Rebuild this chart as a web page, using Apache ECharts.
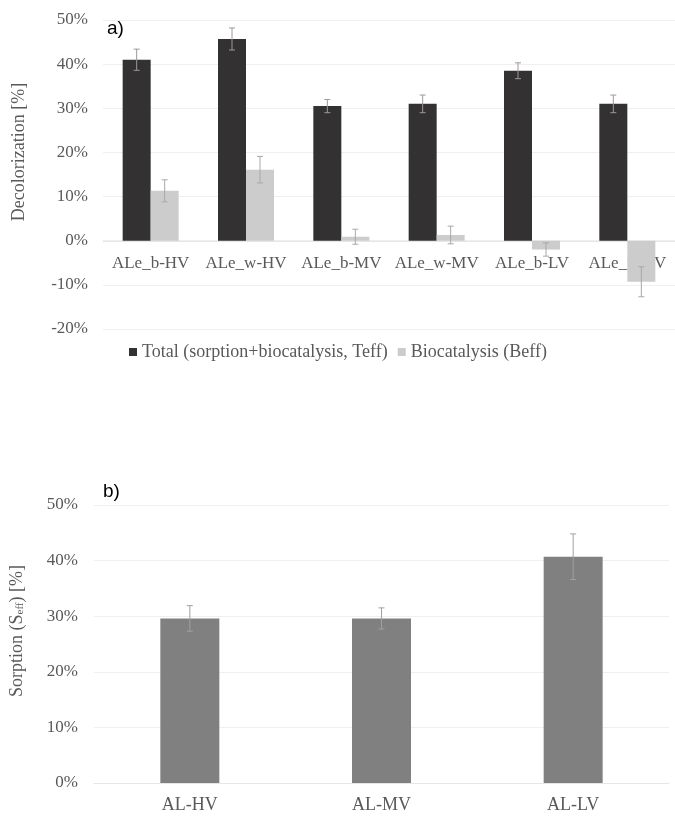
<!DOCTYPE html>
<html>
<head>
<meta charset="utf-8">
<script src="https://cdn.jsdelivr.net/npm/echarts@6/dist/echarts.min.js"></script>
<style>
  html, body { margin: 0; padding: 0; background: #fff; }
  #main { width: 675px; height: 817px; }
</style>
</head>
<body>
<div id="main"></div>
<script>
// panel a) decolorization
var catsA = ['ALe_b-HV', 'ALe_w-HV', 'ALe_b-MV', 'ALe_w-MV', 'ALe_b-LV', 'ALe_w-LV'];
var totalA = [41.0, 45.7, 30.5, 31.0, 38.5, 31.0];
var totalErrA = [2.4, 2.5, 1.5, 2.0, 1.8, 2.0];
var bioA = [11.3, 16.1, 0.9, 1.3, -2.0, -9.3];
var bioErrA = [2.5, 3.0, 1.7, 2.0, 1.5, 3.4];
// panel b) sorption
var catsB = ['AL-HV', 'AL-MV', 'AL-LV'];
var sorpB = [29.6, 29.6, 40.7];
var sorpErrB = [2.3, 1.9, 4.1];

var serif = 'Liberation Serif';
var txtGray = '#595959';

function errData(vals, errs) {
  return vals.map(function (v, i) { return [i, v, errs[i]]; });
}

// error bar drawn through the axis scales, dx shifts to the bar center
function errRender(dx, color) {
  return function (params, api) {
    var i = api.value(0), v = api.value(1), e = api.value(2);
    var top = api.coord([i, v + e]);
    var bot = api.coord([i, v - e]);
    var x = top[0] + dx;
    var cap = 3;
    var st = { stroke: color, lineWidth: 1 };
    return {
      type: 'group',
      children: [
        { type: 'line', shape: { x1: x, y1: top[1], x2: x, y2: bot[1] }, style: st },
        { type: 'line', shape: { x1: x - cap, y1: top[1], x2: x + cap, y2: top[1] }, style: st },
        { type: 'line', shape: { x1: x - cap, y1: bot[1], x2: x + cap, y2: bot[1] }, style: st }
      ]
    };
  };
}

var chart = echarts.init(document.getElementById('main'));

var option = {
  backgroundColor: '#fff',
  animation: false,
  title: [
    { text: 'a)', left: 102, top: 14, textStyle: { fontFamily: 'Liberation Sans', fontSize: 19, fontWeight: 'normal', color: '#000' } },
    { text: 'b)', left: 98, top: 477, textStyle: { fontFamily: 'Liberation Sans', fontSize: 19, fontWeight: 'normal', color: '#000' } }
  ],
  legend: {
    left: 124, top: 338,
    icon: 'rect', itemWidth: 8, itemHeight: 8, itemGap: 10,
    textStyle: { fontFamily: serif, fontSize: 18, color: txtGray },
    data: ['Total (sorption+biocatalysis, Teff)', 'Biocatalysis (Beff)']
  },
  graphic: [
    {
      type: 'text', x: 19, y: 152, rotation: Math.PI / 2,
      style: { text: 'Decolorization [%]', font: '18px "Liberation Serif"', fill: txtGray, align: 'center', verticalAlign: 'middle' }
    },
    {
      type: 'text', x: 17, y: 631, rotation: Math.PI / 2,
      style: {
        text: 'Sorption (S{sub|eff}) [%]', font: '18px "Liberation Serif"', fill: txtGray, align: 'center', verticalAlign: 'middle',
        rich: { sub: { fontFamily: serif, fontSize: 11, fill: txtGray, verticalAlign: 'bottom', padding: [7, 0, 0, 0] } }
      }
    }
  ],
  grid: [
    { left: 103, top: 20, width: 576, height: 309 },
    { left: 94, top: 505, width: 575, height: 278 }
  ],
  xAxis: [
    {
      // category labels sit on the 0% line, 2 steps above the -20% bottom
      gridIndex: 0, type: 'category', data: catsA, position: 'bottom', offset: -88,
      axisLine: { onZero: false, lineStyle: { color: '#e6e6e6' } },
      axisTick: { show: false },
      axisLabel: { fontFamily: serif, fontSize: 17, color: txtGray, margin: 14, interval: 0 }
    },
    {
      gridIndex: 1, type: 'category', data: catsB,
      axisLine: { lineStyle: { color: '#e6e6e6' } },
      axisTick: { show: false },
      axisLabel: { fontFamily: serif, fontSize: 18, color: txtGray, margin: 13, interval: 0 }
    }
  ],
  yAxis: [
    {
      gridIndex: 0, type: 'value', min: -20, max: 50, interval: 10,
      axisLine: { show: false }, axisTick: { show: false },
      axisLabel: { fontFamily: serif, fontSize: 17, color: txtGray, margin: 15, formatter: '{value}%' },
      splitLine: { lineStyle: { color: '#efefef' } }
    },
    {
      gridIndex: 1, type: 'value', min: 0, max: 50, interval: 10,
      axisLine: { show: false }, axisTick: { show: false },
      axisLabel: { fontFamily: serif, fontSize: 17, color: txtGray, margin: 16, formatter: '{value}%' },
      splitLine: { lineStyle: { color: '#efefef' } }
    }
  ],
  series: [
    {
      name: 'Total (sorption+biocatalysis, Teff)', type: 'bar', xAxisIndex: 0, yAxisIndex: 0,
      data: totalA, barWidth: 28, barGap: '0%', itemStyle: { color: '#333132' }
    },
    {
      name: 'Biocatalysis (Beff)', type: 'bar', xAxisIndex: 0, yAxisIndex: 0, z: 3,
      data: bioA, barWidth: 28, barGap: '0%', itemStyle: { color: '#cccccc' }
    },
    {
      type: 'custom', xAxisIndex: 0, yAxisIndex: 0, z: 5,
      data: errData(totalA, totalErrA), encode: { x: 0, y: 1 },
      renderItem: errRender(-14, '#9a9a9a')
    },
    {
      type: 'custom', xAxisIndex: 0, yAxisIndex: 0, z: 5,
      data: errData(bioA, bioErrA), encode: { x: 0, y: 1 },
      renderItem: errRender(14, '#a8a8a8')
    },
    {
      name: 'Sorption', type: 'bar', xAxisIndex: 1, yAxisIndex: 1,
      data: sorpB, barWidth: 59, itemStyle: { color: '#808080' }
    },
    {
      type: 'custom', xAxisIndex: 1, yAxisIndex: 1, z: 5,
      data: errData(sorpB, sorpErrB), encode: { x: 0, y: 1 },
      renderItem: errRender(0, '#a0a0a0')
    }
  ]
};

chart.setOption(option);
</script>
</body>
</html>
